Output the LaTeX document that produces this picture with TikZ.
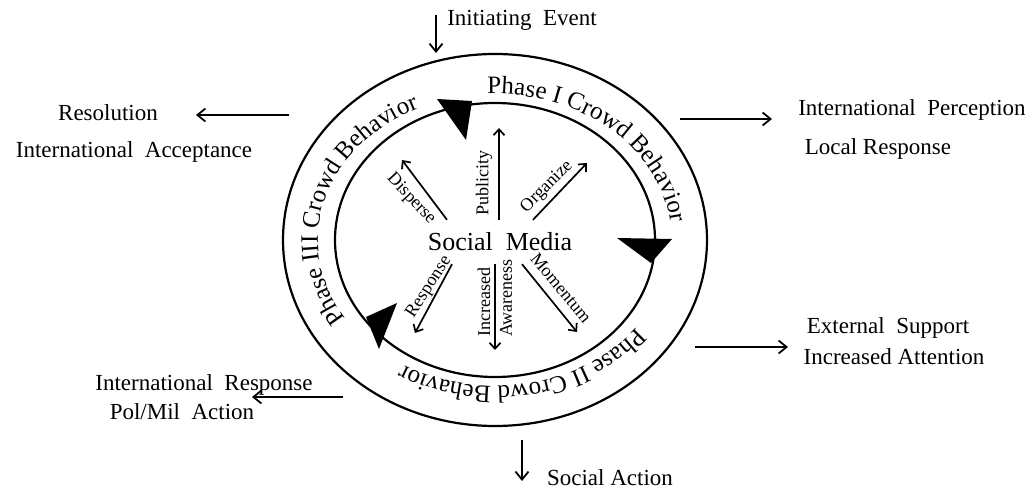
\documentclass[tikz,border=0pt]{standalone}
\usepackage{fontspec}
\setmainfont{Liberation Serif}
\usepackage{tikz}
\usetikzlibrary{arrows.meta, decorations.text}
\definecolor{inkColor}{RGB}{0, 0, 0}
\newcommand{\phasefont}{\fontsize{25}{30}\selectfont}
\tikzset{
    ring_line/.style={
        draw=inkColor,
        line width=2.2pt
    },
    ring_head/.style={
        fill=inkColor
    },
    phase_text/.style={
        decorate,
        decoration={
            text along path,
            text align=center,
            text={|\phasefont|#1}
        }
    },
    hub_node/.style={
        font=\fontsize{26}{30}\selectfont,
        text=inkColor,
        minimum height=44pt,
        inner sep=0pt
    },
    spoke_edge/.style={
        -{Straight Barb[length=6pt,width=11pt]},
        line width=1.7pt,
        draw=inkColor
    },
    spoke_label/.style={
        font=\fontsize{18}{21}\selectfont,
        text=inkColor,
        inner sep=1pt
    },
    out_edge/.style={
        -{Straight Barb[length=8pt,width=13pt]},
        line width=1.8pt,
        draw=inkColor
    },
    out_label/.style={
        font=\fontsize{23}{27}\selectfont,
        text=inkColor,
        text height=16pt,
        text depth=5pt,
        inner sep=1pt
    }
}
\begin{document}
\begin{tikzpicture}[x=1pt, y=1pt]
    \useasboundingbox (0,0) rectangle (1034,490);

    % the two rings and the cycle heads
    \draw[ring_line] (495,250) ellipse [x radius=212, y radius=186];
    \draw[ring_line] (495,250) ellipse [x radius=160, y radius=137];
    \fill[ring_head] (437,391) -- (472,389) -- (466,350) -- cycle;
    \fill[ring_head] (617,252) -- (672,251) -- (651,227) -- cycle;
    \fill[ring_head] (397,187) -- (366,173) -- (379,141) -- cycle;

    \path[phase_text={Phase I Crowd Behavior}]
        ([shift={(122:177 and 146)}]495,250) arc[start angle=122, end angle=-28, x radius=177, y radius=146];
    \path[phase_text={Phase II Crowd Behavior}]
        ([shift={(-3:177 and 146)}]495,250) arc[start angle=-3, end angle=-153, x radius=177, y radius=146];
    \path[phase_text={Phase III Crowd Behavior}]
        ([shift={(240:177 and 146)}]495,250) arc[start angle=240, end angle=90, x radius=177, y radius=146];

    % hub and spokes
    \node[hub_node] (sm) at (500,248) {Social~ Media};

    \coordinate (pub_tip) at (499,362);
    \coordinate (dsp_tip) at (402,330);
    \coordinate (org_tip) at (587,327);
    \coordinate (rsp_tip) at (415,157);
    \coordinate (awr_tip) at (495,140);
    \coordinate (mom_tip) at (577,158);

    \draw[spoke_edge] (sm.north -| pub_tip) -- (pub_tip);
    \draw[spoke_edge] ([xshift=-53pt]sm.north) -- (dsp_tip);
    \draw[spoke_edge] ([xshift=33pt]sm.north) -- (org_tip);
    \draw[spoke_edge] ([xshift=-48pt]sm.south) -- (rsp_tip);
    \draw[spoke_edge] (sm.south -| awr_tip) -- (awr_tip);
    \draw[spoke_edge] ([xshift=22pt]sm.south) -- (mom_tip);

    \node[spoke_label, rotate=90] (pub) at (484,307) {Publicity};
    \node[spoke_label, rotate=-47] (dsp) at (411,291) {Disperse};
    \node[spoke_label, rotate=45] (org) at (547,303) {Organize};
    \node[spoke_label, rotate=57] (rsp) at (429,203) {Response};
    \node[spoke_label, rotate=90, anchor=west] (inc) at (484,152) {Increased};
    \node[spoke_label, rotate=90, anchor=west] (awr) at (506,152) {Awareness};
    \node[spoke_label, rotate=-50] (mom) at (561,202) {Momentum};

    % outcomes round the cycle
    \node[out_label] (init) at (522,470) {Initiating~ Event};
    \node[out_label] (res) at (108,375) {Resolution};
    \node[out_label] (accept) at (134,338) {International~ Acceptance};
    \node[out_label] (perc) at (912,380) {International~ Perception};
    \node[out_label] (local) at (878,341) {Local Response};
    \node[out_label] (ext) at (888,162) {External~ Support};
    \node[out_label] (attn) at (894,131) {Increased Attention};
    \node[out_label] (intl) at (204,105) {International~ Response};
    \node[out_label] (polmil) at (182,76) {Pol/Mil~ Action};
    \node[out_label] (act) at (610,10) {Social Action};

    \coordinate (init_tail) at (436,475);
    \coordinate (init_head) at (436,437);
    \coordinate (res_tail) at (289,375);
    \coordinate (res_head) at (196,375);
    \coordinate (perc_tail) at (680,371);
    \coordinate (perc_head) at (772,371);
    \coordinate (ext_tail) at (695,143);
    \coordinate (ext_head) at (788,143);
    \coordinate (intl_tail) at (343,93);
    \coordinate (intl_head) at (252,93);
    \coordinate (act_tail) at (522,50);
    \coordinate (act_head) at (522,9);

    \draw[out_edge] (init_tail) -- (init_head);
    \draw[out_edge] (res_tail) -- (res_head);
    \draw[out_edge] (perc_tail) -- (perc_head);
    \draw[out_edge] (ext_tail) -- (ext_head);
    \draw[out_edge] (intl_tail) -- (intl_head);
    \draw[out_edge] (act_tail) -- (act_head);
\end{tikzpicture}
\end{document}
